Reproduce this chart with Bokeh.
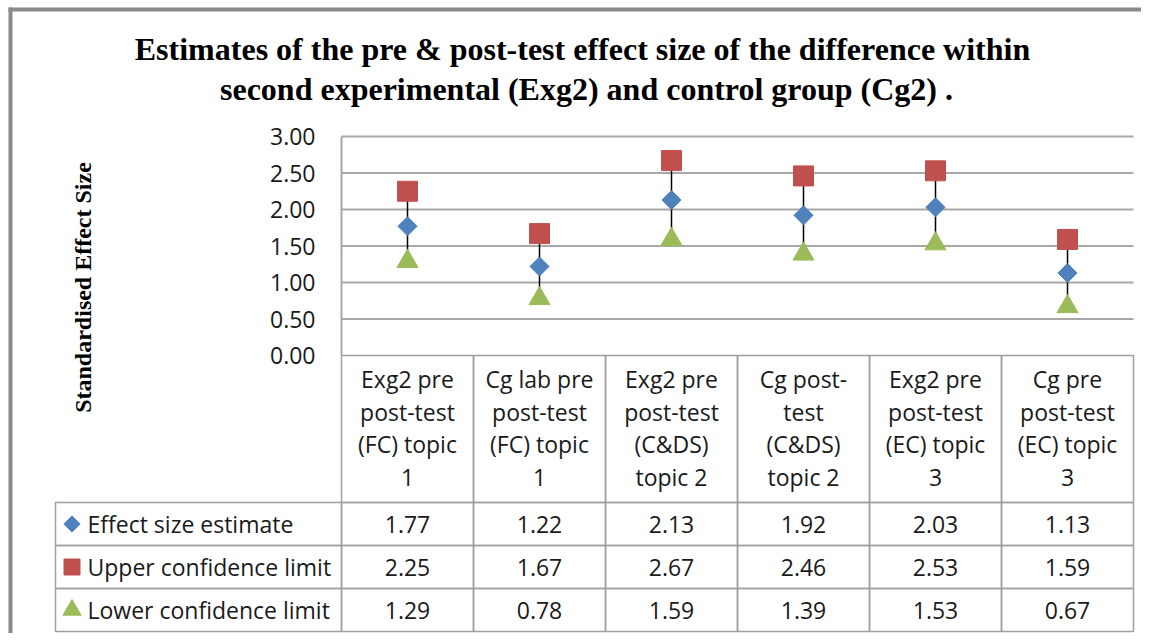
import math
from bokeh.plotting import figure
from bokeh.models import Range1d, FixedTicker, NumeralTickFormatter
from bokeh.core.properties import value
from bokeh.embed import file_html
from bokeh.resources import INLINE

# ---------------- data ----------------
categories = [
    "Exg2 pre\npost-test\n(FC) topic\n1",
    "Cg lab pre\npost-test\n(FC) topic\n1",
    "Exg2 pre\npost-test\n(C&DS)\ntopic 2",
    "Cg post-\ntest\n(C&DS)\ntopic 2",
    "Exg2 pre\npost-test\n(EC) topic\n3",
    "Cg pre\npost-test\n(EC) topic\n3",
]
series_names = ["Effect size estimate", "Upper confidence limit", "Lower confidence limit"]
effect = [1.77, 1.22, 2.13, 1.92, 2.03, 1.13]
upper = [2.25, 1.67, 2.67, 2.46, 2.53, 1.59]
lower = [1.29, 0.78, 1.59, 1.39, 1.53, 0.67]
y_ticks = [0.0, 0.5, 1.0, 1.5, 2.0, 2.5, 3.0]
title_lines = ["Estimates of the pre & post-test  effect size of the difference within",
               "second experimental (Exg2) and control group (Cg2) ."]
y_label = "Standardised Effect Size"

# ---------------- styles / layout ----------------
BLUE, RED, GREEN = "#4F81BD", "#C0504D", "#9BBB59"
GRID = "#a8a8a8"
TABLE = "#a0a0a0"
FRAME = "#8a8a8a"
TXT = "#1a1a1a"
SANS = "Open Sans"
SERIF = "Liberation Serif"
FS = "23px"
PX_X = 132.0      # pixels per category
PX_Y = 73.0       # pixels per y unit
W, H = 1141, 633
LEFT_PX, TOP_PX = 341, 355   # canvas position of the (x=0, y=0) corner of the plot area
X0 = -LEFT_PX / PX_X
X1 = (W - LEFT_PX) / PX_X
Y1 = TOP_PX / PX_Y
Y0 = -(H - TOP_PX) / PX_Y
HEADER_H = 147 / PX_Y
ROW_H = 43 / PX_Y
LEG_W = 286 / PX_X


def px_x(px):
    return (px - LEFT_PX) / PX_X


def px_y(px):
    return (TOP_PX - px) / PX_Y


n = len(categories)
centers = [i + 0.5 for i in range(n)]

p = figure(width=W, height=H, x_range=Range1d(X0, X1), y_range=Range1d(Y0, Y1),
           output_backend="svg", toolbar_location=None, title_location=None,
           min_border=0)
p.outline_line_color = None
p.background_fill_color = "white"
p.border_fill_color = "white"
p.xgrid.visible = False
p.ygrid.visible = False
p.xaxis.visible = False

# outer chart-area frame (top and left edges visible)
p.segment(x0=[px_x(8), px_x(10)], x1=[X1, px_x(10)],
          y0=[px_y(9), px_y(7)], y1=[px_y(9), Y0],
          line_color=FRAME, line_width=4)

# title
p.text(x=[px_x(586), px_x(586)], y=[px_y(48), px_y(88)],
       text=title_lines, text_font=value(SERIF), text_font_style="bold",
       text_font_size="32px", text_align="center", text_baseline="middle", text_color="black")

# y axis at the plot-area edge
ya = p.yaxis[0]
ya.fixed_location = 0
ya.bounds = (0, 3)
ya.ticker = FixedTicker(ticks=y_ticks)
ya.formatter = NumeralTickFormatter(format="0.00")
ya.major_tick_out = 0
ya.major_tick_in = 0
ya.minor_tick_out = 0
ya.minor_tick_in = 0
ya.axis_line_color = GRID
ya.axis_line_width = 2
ya.major_label_standoff = 26
ya.major_label_text_font = SANS
ya.major_label_text_font_size = FS
ya.major_label_text_color = TXT

# horizontal gridlines across the plot area
gl = y_ticks[1:]
p.segment(x0=[0] * len(gl), x1=[n] * len(gl), y0=gl, y1=gl, line_color=GRID, line_width=2)

# high-low lines
p.segment(x0=centers, x1=centers, y0=lower, y1=upper, line_color="black", line_width=1.5)

# markers
p.scatter(centers, upper, marker="square", size=20, fill_color=RED, line_color=RED)
p.scatter(centers, effect, marker="square", angle=math.pi / 4, size=13.5,
          fill_color=BLUE, line_color=BLUE)
p.scatter(centers, lower, marker="triangle", size=21, fill_color=GREEN, line_color=GREEN)

# y label
p.text(x=[px_x(82)], y=[px_y(287)], text=[y_label], angle=math.pi / 2,
       text_font=value(SERIF), text_font_style="bold", text_font_size="24px",
       text_align="center", text_baseline="middle", text_color="black")

# ---------------- data table ----------------
p.quad(left=list(range(n)), right=[i + 1 for i in range(n)],
       top=[0] * n, bottom=[-HEADER_H] * n,
       fill_color=None, line_color=TABLE, line_width=1.5)
p.text(x=centers, y=[-HEADER_H / 2 + 1 / PX_Y] * n, text=categories,
       text_font=value(SANS), text_font_size=FS, text_color=TXT,
       text_align="center", text_baseline="middle", text_line_height=1.02)

rows = [effect, upper, lower]
markers = [("square", math.pi / 4, 11.5, BLUE), ("square", 0, 16, RED), ("triangle", 0, 18, GREEN)]
for r, vals in enumerate(rows):
    top = -HEADER_H - r * ROW_H
    bot = top - ROW_H
    mid = (top + bot) / 2
    lefts = [-LEG_W] + list(range(n))
    rights = [0] + [i + 1 for i in range(n)]
    p.quad(left=lefts, right=rights, top=[top] * (n + 1), bottom=[bot] * (n + 1),
           fill_color=None, line_color=TABLE, line_width=1.5)
    p.text(x=centers, y=[mid] * n, text=[f"{v:.2f}" for v in vals],
           text_font=value(SANS), text_font_size=FS, text_color=TXT,
           text_align="center", text_baseline="middle")
    mk, ang, sz, col = markers[r]
    p.scatter([px_x(71.5)], [mid], marker=mk, angle=ang, size=sz,
              fill_color=col, line_color=col)
    p.text(x=[px_x(87)], y=[mid], text=[series_names[r]],
           text_font=value(SANS), text_font_size=FS, text_color=TXT,
           text_align="left", text_baseline="middle")

open("out.html", "w").write(file_html(p, INLINE))
